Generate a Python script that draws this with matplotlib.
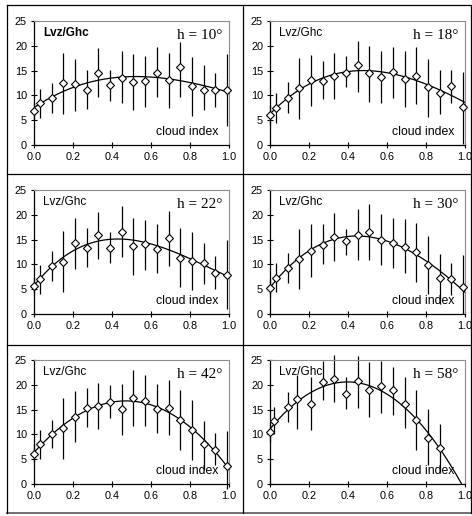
import numpy as np
import matplotlib
matplotlib.use("Agg")
import matplotlib.pyplot as plt
from matplotlib.lines import Line2D

# ---- data ----
cloud_index = [0.0, 0.03, 0.09, 0.15, 0.21, 0.27, 0.33, 0.39, 0.45,
               0.51, 0.57, 0.63, 0.69, 0.75, 0.81, 0.87, 0.93, 0.99]

titles = ["h = 10°", "h = 18°", "h = 22°", "h = 30°", "h = 42°", "h = 58°"]
fit_degree = [3, 3, 3, 3, 3, 2]

y_h10 = [6.8, 8.4, 9.5, 12.5, 12.3, 11.1, 14.6, 12.1, 13.6, 12.7, 12.9, 14.6, 13.1, 15.7, 11.9, 11.1, 11.0, 11.0]
hi_h10 = [8.5, 11.2, 12.4, 18.6, 17.4, 15.1, 19.5, 15.1, 18.9, 18.3, 17.9, 19.8, 18.6, 20.8, 17.7, 16.1, 14.5, 18.3]
lo_h10 = [5.0, 5.4, 6.5, 6.2, 6.9, 7.2, 9.7, 8.8, 8.5, 7.0, 7.6, 9.7, 7.4, 9.7, 5.9, 7.0, 7.7, 3.8]

y_h18 = [6.0, 7.4, 9.5, 11.4, 13.2, 12.9, 14.0, 14.6, 16.1, 14.5, 13.7, 14.8, 13.3, 14.0, 11.6, 10.5, 11.9, 7.7]
hi_h18 = [8.0, 10.4, 12.7, 17.6, 18.2, 17.0, 18.6, 17.9, 21.0, 20.0, 18.9, 19.8, 18.9, 19.8, 17.4, 15.1, 15.1, 14.7]
lo_h18 = [4.0, 4.5, 6.5, 5.3, 7.9, 9.2, 9.2, 11.6, 10.6, 8.6, 8.5, 9.5, 7.6, 8.2, 5.6, 6.2, 8.4, 0.3]

y_h22 = [5.7, 7.1, 9.7, 10.5, 14.3, 13.4, 15.9, 13.4, 16.5, 13.7, 14.1, 13.1, 15.3, 11.2, 10.7, 10.3, 8.3, 7.8]
hi_h22 = [7.5, 9.9, 12.7, 16.7, 19.3, 17.3, 20.5, 16.5, 21.8, 19.3, 19.0, 18.1, 20.7, 17.3, 16.5, 14.4, 11.6, 15.0]
lo_h22 = [4.0, 4.0, 6.6, 4.5, 9.0, 9.4, 11.0, 10.3, 11.5, 7.9, 8.9, 8.2, 9.7, 5.5, 4.8, 6.1, 5.0, 1.0]

y_h30 = [5.2, 7.3, 9.2, 11.1, 12.7, 13.9, 15.5, 14.7, 16.0, 16.6, 15.0, 14.3, 13.6, 12.4, 9.9, 7.3, 7.0, 5.4]
hi_h30 = [7.0, 10.3, 12.2, 17.1, 18.1, 18.1, 20.4, 17.1, 21.2, 22.2, 20.2, 19.4, 19.1, 18.3, 15.7, 12.0, 10.3, 11.9]
lo_h30 = [3.5, 4.4, 6.3, 5.0, 7.5, 10.1, 10.7, 11.8, 10.9, 10.9, 9.8, 9.2, 8.3, 6.5, 4.0, 2.1, 3.8, 0.0]

y_h42 = [6.1, 8.0, 10.1, 11.3, 13.5, 15.4, 15.8, 16.6, 15.2, 17.4, 16.7, 15.2, 15.4, 12.9, 10.9, 8.1, 6.9, 3.7]
hi_h42 = [8.0, 10.9, 13.0, 17.3, 18.7, 19.4, 20.4, 20.0, 20.1, 22.9, 21.9, 20.2, 20.9, 18.9, 17.0, 12.7, 10.3, 10.7]
lo_h42 = [4.5, 5.1, 7.3, 5.1, 8.5, 11.5, 11.1, 13.3, 9.9, 11.7, 11.6, 10.3, 9.9, 6.9, 4.9, 2.9, 3.8, -1.0]

x_h58 = [0.0, 0.02, 0.09, 0.14, 0.21, 0.27, 0.33, 0.39, 0.45, 0.51, 0.57, 0.63, 0.69, 0.75, 0.81, 0.87]
y_h58 = [10.5, 12.7, 15.6, 17.2, 16.2, 20.6, 21.2, 18.2, 20.7, 19.0, 19.7, 18.9, 16.2, 12.9, 9.2, 7.2]
hi_h58 = [12.5, 15.6, 18.6, 21.9, 21.6, 24.8, 26.0, 21.6, 25.9, 24.5, 24.7, 23.6, 21.6, 18.9, 15.1, 12.1]
lo_h58 = [8.5, 10.1, 12.6, 11.1, 10.9, 17.0, 16.6, 15.2, 15.4, 13.5, 14.3, 13.9, 11.2, 6.9, 3.9, 2.5]

panels = [
    (cloud_index, y_h10, lo_h10, hi_h10),
    (cloud_index, y_h18, lo_h18, hi_h18),
    (cloud_index, y_h22, lo_h22, hi_h22),
    (cloud_index, y_h30, lo_h30, hi_h30),
    (cloud_index, y_h42, lo_h42, hi_h42),
    (x_h58, y_h58, lo_h58, hi_h58),
]

W, H = 472, 516
fig = plt.figure(figsize=(W / 100, H / 100), dpi=100)
plt.rcParams['font.family'] = ['Liberation Sans', 'DejaVu Sans']

lefts = [34, 270]
tops = [21, 190, 360]
aw, ah = 195, 124

for i, (xs, ys, lo, hi) in enumerate(panels):
    r, c = divmod(i, 2)
    L = lefts[c]
    T = tops[r]
    ax = fig.add_axes([L / W, 1 - (T + ah) / H, aw / W, ah / H])
    xs = np.array(xs); ys = np.array(ys); lo = np.array(lo); hi = np.array(hi)
    ax.errorbar(xs, ys, yerr=[ys - lo, hi - ys], fmt='none', ecolor='black',
                elinewidth=0.9, capsize=0, clip_on=False, zorder=2)
    coef = np.polyfit(xs, ys, fit_degree[i])
    xf = np.linspace(0, 1, 200)
    yf = np.polyval(coef, xf)
    ax.plot(xf, yf, color='black', lw=0.9, zorder=3, clip_on=True)
    ax.plot(xs, ys, ls='none', marker='D', ms=4.2, mfc='white', mec='black',
            mew=0.8, zorder=4, clip_on=False)
    ax.set_xlim(0, 1)
    ax.set_ylim(0, 25)
    ax.set_xticks(np.arange(0, 1.01, 0.2))
    ax.set_xticklabels([f"{v:.1f}" for v in np.arange(0, 1.01, 0.2)])
    ax.set_yticks(range(0, 26, 5))
    ax.tick_params(direction='inout', length=4, width=0.8, labelsize=7.8, pad=3)
    for s in ['top', 'right']:
        ax.spines[s].set_color('#8c8c8c')
        ax.spines[s].set_linewidth(0.8)
    for s in ['left', 'bottom']:
        ax.spines[s].set_color('black')
        ax.spines[s].set_linewidth(0.9)
    ax.text(0.046, 0.90, "Lvz/Ghc", transform=ax.transAxes, fontsize=8.5,
            fontweight='bold' if i == 0 else 'normal', va='center', ha='left')
    ax.text(0.964, 0.885, titles[i], transform=ax.transAxes, fontsize=11,
            family=['Liberation Serif', 'DejaVu Serif'], va='center', ha='right')
    ax.text(0.944, 0.105, "cloud index", transform=ax.transAxes, fontsize=8.8,
            va='center', ha='right')

# cell borders
def hline(y, x0, x1, color='black', lw=0.9):
    fig.add_artist(Line2D([x0 / W, x1 / W], [1 - y / H, 1 - y / H], color=color, lw=lw))

def vline(x, y0, y1, color='black', lw=0.9):
    fig.add_artist(Line2D([x / W, x / W], [1 - y0 / H, 1 - y1 / H], color=color, lw=lw))

hline(5, 7, 471)
hline(174, 7, 471)
hline(345, 7, 471)
hline(513, 7, 471, color='#707070', lw=1.4)
vline(7, 5, 513)
vline(243, 5, 513)
vline(471, 5, 513)

fig.savefig("out.png", dpi=100)
